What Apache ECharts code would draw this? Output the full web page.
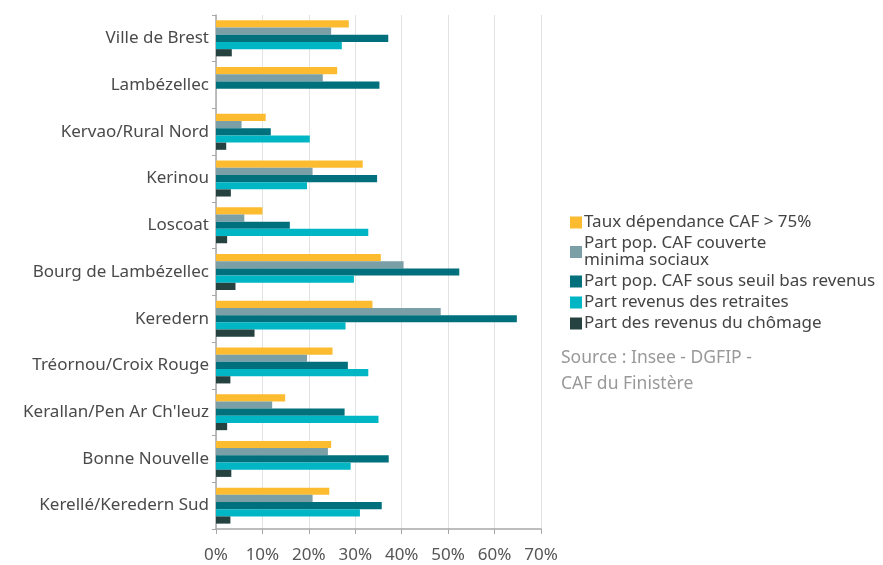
<!DOCTYPE html>
<html>
<head>
<meta charset="utf-8">
<script src="https://cdn.jsdelivr.net/npm/echarts@6/dist/echarts.min.js"></script>
<style>
  html, body { margin: 0; padding: 0; background: #fff; }
  #chart { width: 883px; height: 565px; }
</style>
</head>
<body>
<div id="chart"></div>
<script>
// Quartiers, top to bottom
const categories = [
  'Ville de Brest', 'Lambézellec', 'Kervao/Rural Nord', 'Kerinou', 'Loscoat',
  'Bourg de Lambézellec', 'Keredern', 'Tréornou/Croix Rouge',
  "Kerallan/Pen Ar Ch'leuz", 'Bonne Nouvelle', 'Kerellé/Keredern Sud'
];

const seriesNames = [
  'Taux dépendance CAF > 75%',
  'Part pop. CAF couverte\nminima sociaux',
  'Part pop. CAF sous seuil bas revenus',
  'Part revenus des retraites',
  'Part des revenus du chômage'
];

// Values in %, one entry per quartier (null = not available)
const tauxDependance = [28.6, 26.1, 10.7, 31.6, 10.0, 35.5, 33.7, 25.1, 14.9, 24.8, 24.4];
const minimaSociaux  = [24.8, 23.0, 5.5, 20.8, 6.1, 40.4, 48.4, 19.6, 12.1, 24.1, 20.8];
const basRevenus     = [37.1, 35.2, 11.8, 34.7, 15.9, 52.4, 64.8, 28.4, 27.7, 37.2, 35.7];
const retraites      = [27.1, null, 20.2, 19.6, 32.8, 29.7, 27.9, 32.8, 35.0, 29.0, 31.0];
const chomage        = [3.4, null, 2.2, 3.2, 2.4, 4.2, 8.3, 3.1, 2.4, 3.3, 3.1];

const xTicks = [0, 10, 20, 30, 40, 50, 60, 70];

const colors = ['#FDBB30', '#7B9FA6', '#00707D', '#00B5C4', '#254241'];
const dataSets = [tauxDependance, minimaSociaux, basRevenus, retraites, chomage];
const FONT = '"Noto Sans", sans-serif';

const chart = echarts.init(document.getElementById('chart'));
chart.setOption({
  animation: false,
  textStyle: { fontFamily: FONT },
  grid: { left: 216, right: 342, top: 15, bottom: 36, containLabel: false },
  xAxis: {
    type: 'value',
    min: xTicks[0],
    max: xTicks[xTicks.length - 1],
    interval: 10,
    axisLine: { show: true, lineStyle: { color: '#a8a8a8', width: 1.5 } },
    axisTick: { show: true, length: 5, lineStyle: { color: '#a8a8a8' } },
    splitLine: { show: true, lineStyle: { color: '#e3e3e3', width: 1 } },
    axisLabel: { formatter: '{value}%', color: '#555', fontSize: 17, margin: 18, fontFamily: FONT }
  },
  yAxis: {
    type: 'category',
    data: categories,
    inverse: true,
    axisLine: { show: true, lineStyle: { color: '#a8a8a8', width: 1.5 } },
    axisTick: { show: true, length: 4, lineStyle: { color: '#a8a8a8' } },
    axisLabel: { color: '#4a4a4a', fontSize: 17, margin: 7, fontFamily: FONT, lineHeight: 22, verticalAlign: 'middle', padding: [4, 0, 0, 0] }
  },
  legend: {
    orient: 'vertical',
    left: 565,
    top: 209,
    icon: 'rect',
    itemWidth: 12,
    itemHeight: 12,
    itemGap: 4,
    textStyle: { color: '#444', fontSize: 17, fontFamily: FONT, lineHeight: 17, padding: [0, 0, 0, -3] },
    data: seriesNames
  },
  graphic: [{
    type: 'text',
    left: 561,
    top: 345,
    style: {
      text: 'Source : Insee - DGFIP -\nCAF du Finistère',
      fill: '#999',
      font: '17.5px ' + FONT,
      lineHeight: 26
    }
  }],
  series: seriesNames.map((name, i) => ({
    name: name,
    type: 'bar',
    data: dataSets[i],
    barGap: '0%',
    barCategoryGap: '23%',
    itemStyle: { color: colors[i] }
  }))
});
</script>
</body>
</html>
